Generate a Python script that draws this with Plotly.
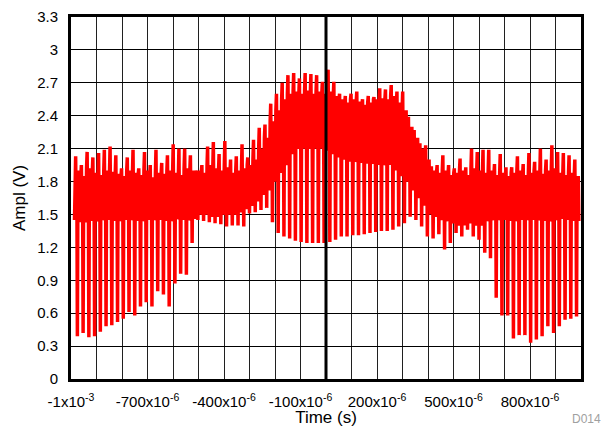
import plotly.graph_objects as go

# ---------------- data ----------------
t_start_us = -975.0      # time of first deep dip (microseconds)
period_us = 22.5         # spacing between dips (microseconds)

cycle_peak = [
    2.03, 1.95, 2.07, 2.02, 2.06, 2.09, 2.12, 2.04, 1.92, 2.02, 2.09, 1.92, 2.07, 1.95, 2.09, 1.97, 2.04, 2.14, 2.10, 2.10, 2.04,
    1.87, 1.95, 2.12, 2.16, 2.05, 2.17, 2.00, 2.03, 2.14, 2.02, 2.18, 2.29, 2.32, 2.51, 2.60, 2.70, 2.77, 2.79, 2.74, 2.79, 2.78, 2.77,
    2.71, 2.82, 2.71, 2.60, 2.58, 2.60, 2.62, 2.55, 2.58, 2.57, 2.65, 2.64, 2.68, 2.62, 2.62, 2.39, 2.27, 2.15, 2.13, 1.94, 1.95, 2.04, 1.95,
    1.92, 2.01, 1.93, 2.10, 2.07, 2.09, 2.09, 1.96, 2.05, 1.93, 1.93, 2.03, 1.96, 2.06, 1.98, 2.10, 2.00, 2.13, 2.07, 2.06, 2.04, 2.00,
]
cycle_band_hi = [
    1.90, 1.85, 1.92, 1.88, 1.86, 1.90, 1.89, 1.87, 1.85, 1.90, 1.88, 1.86, 1.90, 1.84, 1.88, 1.87, 1.90, 1.88, 1.86, 1.92, 1.90,
    1.90, 1.88, 1.95, 1.92, 1.90, 1.93, 1.88, 1.90, 1.92, 1.95, 2.00, 2.10, 2.20, 2.35, 2.45, 2.55, 2.60, 2.62, 2.60, 2.63, 2.60, 2.62,
    2.60, 2.62, 2.58, 2.55, 2.52, 2.55, 2.53, 2.50, 2.52, 2.55, 2.56, 2.55, 2.58, 2.52, 2.45, 2.30, 2.20, 2.10, 2.00, 1.90, 1.88, 1.90, 1.86,
    1.88, 1.90, 1.86, 1.92, 1.90, 1.88, 1.90, 1.86, 1.88, 1.85, 1.88, 1.90, 1.86, 1.88, 1.90, 1.87, 1.90, 1.92, 1.88, 1.86, 1.88, 1.85,
]
cycle_band_lo = [
    1.45, 1.43, 1.46, 1.44, 1.45, 1.47, 1.45, 1.44, 1.46, 1.45, 1.47, 1.44, 1.46, 1.45, 1.47, 1.45, 1.44, 1.46, 1.47, 1.45, 1.46,
    1.50, 1.52, 1.50, 1.48, 1.50, 1.52, 1.50, 1.52, 1.55, 1.58, 1.62, 1.68, 1.72, 1.80, 1.88, 1.95, 2.05, 2.10, 2.12, 2.10, 2.12, 2.10,
    2.10, 2.08, 2.05, 2.02, 2.00, 1.98, 2.00, 1.97, 1.98, 1.96, 1.95, 1.97, 1.95, 1.90, 1.85, 1.80, 1.72, 1.65, 1.58, 1.50, 1.48, 1.45, 1.44,
    1.42, 1.40, 1.45, 1.42, 1.40, 1.44, 1.46, 1.45, 1.47, 1.45, 1.44, 1.46, 1.45, 1.47, 1.45, 1.46, 1.44, 1.45, 1.47, 1.46, 1.45, 1.44,
]
cycle_dip = [
    0.39, 0.42, 0.38, 0.39, 0.43, 0.48, 0.49, 0.52, 0.55, 0.61, 0.58, 0.66, 0.70, 0.66, 0.80, 0.77, 0.66, 0.87, 0.96, 0.95, 1.24,
    1.45, 1.44, 1.43, 1.42, 1.41, 1.39, 1.40, 1.40, 1.39, 1.51, 1.52, 1.54, 1.56, 1.43, 1.33, 1.30, 1.28, 1.26, 1.25, 1.24, 1.24, 1.24,
    1.24, 1.25, 1.27, 1.30, 1.30, 1.31, 1.31, 1.32, 1.33, 1.34, 1.35, 1.35, 1.36, 1.39, 1.42, 1.48, 1.45, 1.39, 1.30, 1.28, 1.32, 1.18, 1.24,
    1.33, 1.30, 1.36, 1.30, 1.27, 1.15, 1.10, 0.74, 0.58, 0.58, 0.37, 0.40, 0.40, 0.33, 0.36, 0.39, 0.48, 0.42, 0.48, 0.54, 0.55, 0.57,
]

x_tickvals = [-1e-3, -900e-6, -800e-6, -700e-6, -600e-6, -500e-6, -400e-6, -300e-6, -200e-6, -100e-6, 0,
              100e-6, 200e-6, 300e-6, 400e-6, 500e-6, 600e-6, 700e-6, 800e-6, 900e-6, 1e-3]
x_ticktext = ["-1x10<sup>-3</sup>", "", "", "-700x10<sup>-6</sup>", "", "", "-400x10<sup>-6</sup>", "", "",
              "-100x10<sup>-6</sup>", "", "", "200x10<sup>-6</sup>", "", "", "500x10<sup>-6</sup>", "", "",
              "800x10<sup>-6</sup>", "", ""]
y_tickvals = [0, 0.3, 0.6, 0.9, 1.2, 1.5, 1.8, 2.1, 2.4, 2.7, 3.0, 3.3]
y_ticktext = ["0", "0.3", "0.6", "0.9", "1.2", "1.5", "1.8", "2.1", "2.4", "2.7", "3", "3.3"]
zero_time = 0.0

# ------------- build waveform samples from per-cycle levels -------------
offsets = [-0.5, -0.4, -0.3, -0.2, -0.1, 0.0, 0.1, 0.2, 0.3, 0.4]
t_vals, v_vals = [], []
for k in range(len(cycle_dip)):
    lo, hi, pk, dp = cycle_band_lo[k], cycle_band_hi[k], cycle_peak[k], cycle_dip[k]
    levels = [lo, hi, pk, lo, hi, dp, hi, lo, hi, lo]
    for off, lev in zip(offsets, levels):
        t_vals.append((t_start_us + (k + off) * period_us) * 1e-6)
        v_vals.append(lev)

font_family = "Liberation Sans, Arial, Helvetica, sans-serif"

fig = go.Figure()
fig.add_trace(go.Scatter(x=t_vals, y=v_vals, mode="lines",
                         line=dict(color="#FF0000", width=3.5), hoverinfo="skip",
                         showlegend=False))

fig.add_vline(x=zero_time, line=dict(color="black", width=3), layer="above")

fig.update_layout(
    width=605, height=427,
    margin=dict(l=71, r=24, t=17, b=48, autoexpand=False),
    paper_bgcolor="white", plot_bgcolor="white",
    font=dict(family=font_family, size=15, color="black"),
    showlegend=False,
)
fig.update_xaxes(
    range=[-1e-3, 1e-3], tickvals=x_tickvals, ticktext=x_ticktext,
    showgrid=True, gridcolor="#202020", gridwidth=1, automargin=False,
    zeroline=False, showline=True, linecolor="black", linewidth=3, mirror=True,
    ticks="", ticklabelstandoff=7, layer="above traces",
    title=dict(text="Time (s)", font=dict(size=17), standoff=4),
)
fig.update_yaxes(
    range=[0, 3.3], tickvals=y_tickvals, ticktext=y_ticktext,
    showgrid=True, gridcolor="black", gridwidth=1, automargin=False,
    zeroline=False, showline=True, linecolor="black", linewidth=3, mirror=True,
    ticks="", ticklabelstandoff=7, layer="above traces",
    title=dict(text="Ampl (V)", font=dict(size=17), standoff=8),
)
fig.add_annotation(text="D014", xref="paper", yref="paper", x=1.0 + 22/510, y=-40/362,
                   xanchor="right", yanchor="middle", showarrow=False,
                   font=dict(size=12, color="#A0A0A0"))

fig.write_html("out.html")
